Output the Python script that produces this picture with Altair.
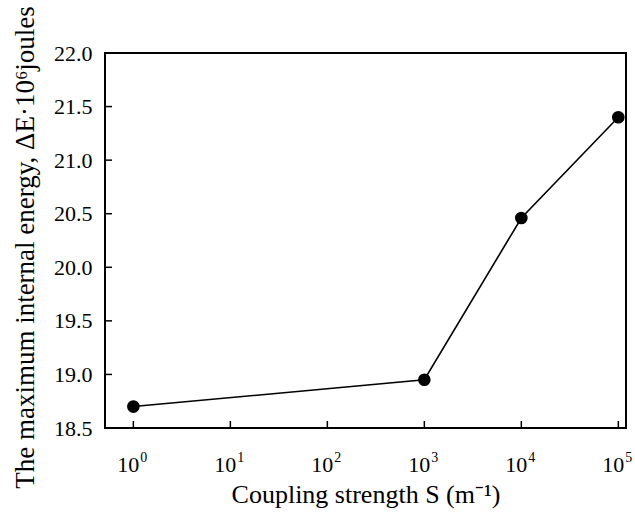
import altair as alt
import pandas as pd

# Data
coupling = [1, 1000, 10000, 100000]
energy = [18.70, 18.95, 20.46, 21.40]

x_ticks = [1, 10, 100, 1000, 10000, 100000]
x_exponents = ["0", "1", "2", "3", "4", "5"]
y_ticks = [18.5, 19.0, 19.5, 20.0, 20.5, 21.0, 21.5, 22.0]

df = pd.DataFrame({"S": coupling, "E": energy})
xt = pd.DataFrame({"S": x_ticks, "exp": x_exponents, "base": ["10"] * len(x_ticks)})
yt = pd.DataFrame({"E": y_ticks})

FONT = "Liberation Serif"
W, H = 521, 375

xscale = alt.Scale(type="log", domain=[0.51, 120000], nice=False)
yscale = alt.Scale(domain=[18.5, 22.0], nice=False, zero=False)

base = alt.Chart(df)

line = base.mark_line(color="black", strokeWidth=1.6).encode(
    x=alt.X("S:Q", scale=xscale,
            axis=alt.Axis(values=x_ticks, labels=False, ticks=False,
                          domain=False, grid=False,
                          title="Coupling strength S (m⁻¹)", titleFont=FONT,
                          titleFontSize=26, titleFontWeight="normal",
                          titleColor="black", titlePadding=53)),
    y=alt.Y("E:Q", scale=yscale,
            axis=alt.Axis(values=y_ticks, format=".1f", ticks=False,
                          domain=False, grid=False, labelFont=FONT,
                          labelFontSize=22, labelColor="black", labelPadding=13,
                          title="The maximum internal energy, ΔE·10⁶joules",
                          titleFont=FONT, titleFontSize=27,
                          titleFontWeight="normal", titleColor="black",
                          titlePadding=14, titleY=194)),
)

points = base.mark_circle(color="black", opacity=1, size=160).encode(
    x=alt.X("S:Q", scale=xscale),
    y=alt.Y("E:Q", scale=yscale),
)

xtick_marks = alt.Chart(xt).mark_rule(color="black", strokeWidth=1.5).encode(
    x=alt.X("S:Q", scale=xscale),
    y=alt.value(H),
    y2=alt.value(H - 7),
)

xlab_base = alt.Chart(xt).mark_text(
    font=FONT, fontSize=22, color="black", align="right", baseline="alphabetic", dx=6
).encode(
    x=alt.X("S:Q", scale=xscale),
    y=alt.value(H + 44),
    text="base:N",
)

xlab_exp = alt.Chart(xt).mark_text(
    font=FONT, fontSize=14, color="black", align="left", baseline="alphabetic", dx=7
).encode(
    x=alt.X("S:Q", scale=xscale),
    y=alt.value(H + 34),
    text="exp:N",
)

ytick_marks = alt.Chart(yt).mark_rule(color="black", strokeWidth=1.5).encode(
    y=alt.Y("E:Q", scale=yscale),
    x=alt.value(0),
    x2=alt.value(7),
)

chart = alt.layer(xtick_marks, ytick_marks, xlab_base, xlab_exp, line, points).properties(
    width=W,
    height=H,
    autosize=alt.AutoSizeParams(type="none"),
    padding={"left": 105, "top": 53, "right": 9, "bottom": 92},
    background="white",
).configure_view(stroke="black", strokeWidth=2)

chart.save("out.html", embed_options={"renderer": "svg", "actions": False})
